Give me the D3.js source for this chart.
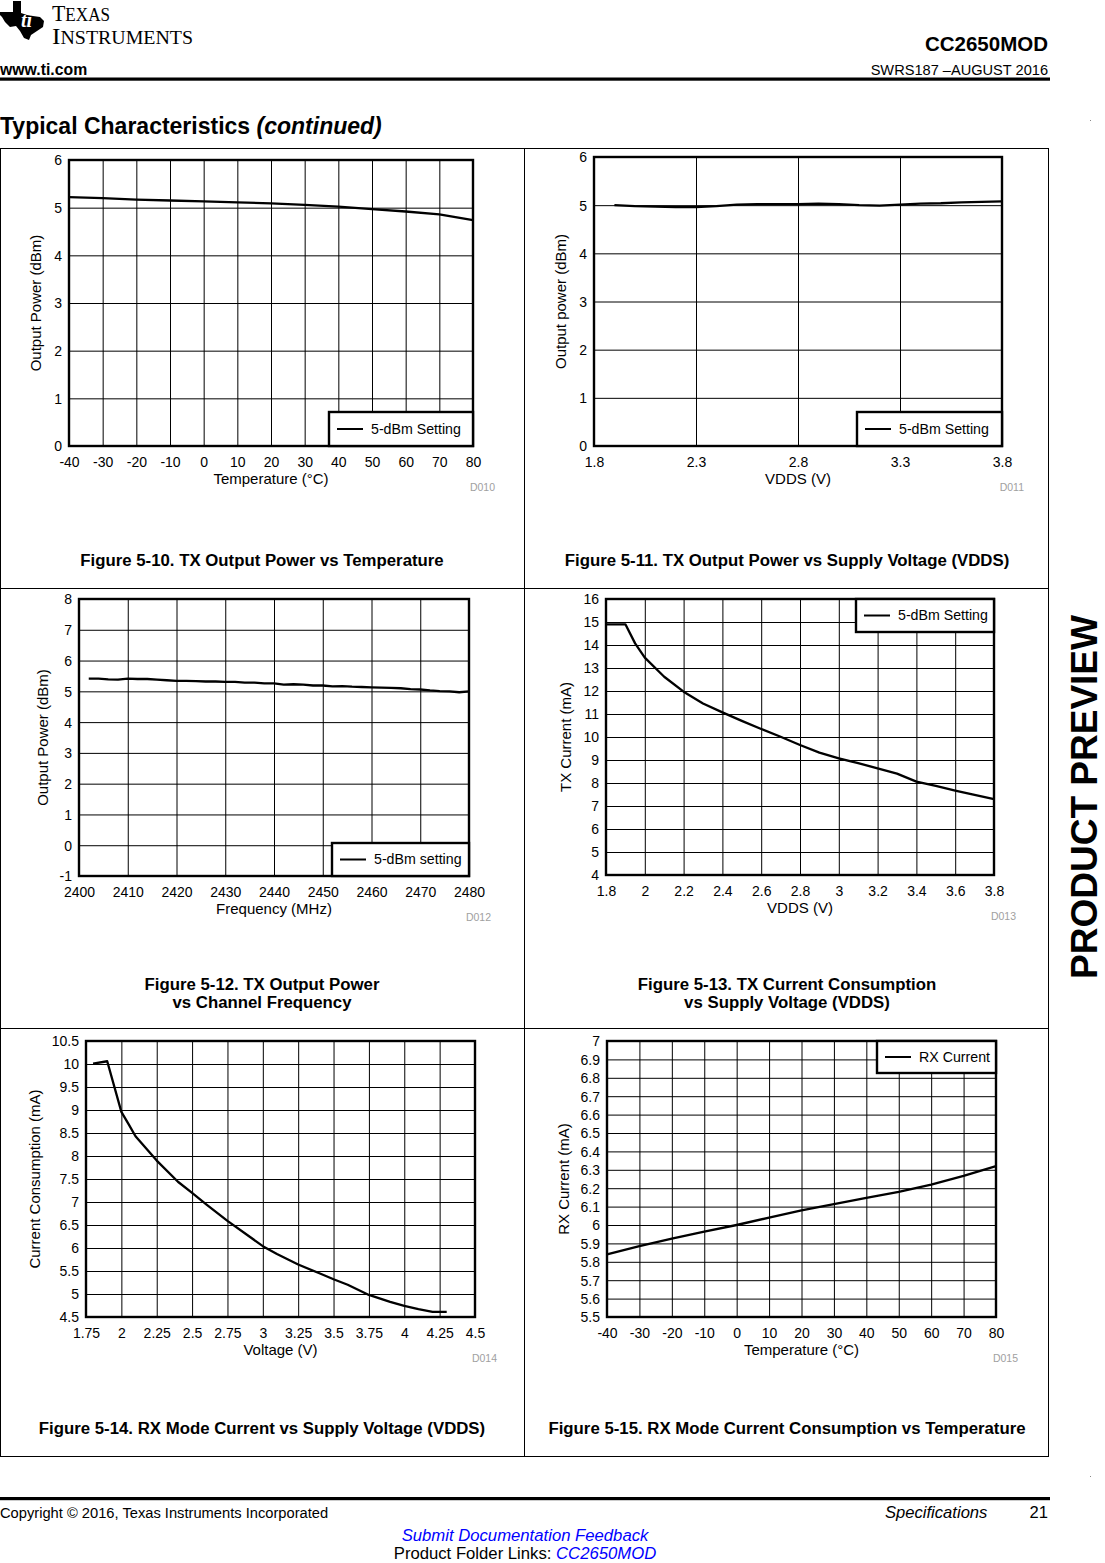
<!DOCTYPE html>
<html>
<head>
<meta charset="utf-8">
<script src="https://cdn.jsdelivr.net/npm/d3@7/dist/d3.min.js"></script>
<style>
  html, body { margin: 0; padding: 0; background: #fff; }
  svg { display: block; font-family: "Liberation Sans", Arial, sans-serif; }
</style>
</head>
<body>
<svg id="page" width="1105" height="1563"></svg>
<script>
// ---------------- DATA ----------------
// Figure 5-10: TX Output Power vs Temperature
const fig10Temp  = [-40, -30, -20, -10, 0, 10, 20, 30, 40, 50, 60, 70, 80];
const fig10Power = [5.22, 5.20, 5.17, 5.15, 5.13, 5.11, 5.09, 5.06, 5.02, 4.97, 4.92, 4.86, 4.74];
const fig10XTicks = [-40, -30, -20, -10, 0, 10, 20, 30, 40, 50, 60, 70, 80];
const fig10XLabels = ["-40", "-30", "-20", "-10", "0", "10", "20", "30", "40", "50", "60", "70", "80"];
const fig10YTicks = [0, 1, 2, 3, 4, 5, 6];
const fig10YLabels = ["0", "1", "2", "3", "4", "5", "6"];

// Figure 5-11: TX Output Power vs Supply Voltage
const fig11Vdds  = [1.9, 2.0, 2.1, 2.2, 2.3, 2.4, 2.5, 2.6, 2.7, 2.8, 2.9, 3.0, 3.1, 3.2, 3.3, 3.4, 3.5, 3.6, 3.7, 3.8];
const fig11Power = [5.00, 4.98, 4.97, 4.96, 4.96, 4.98, 5.01, 5.02, 5.02, 5.02, 5.03, 5.02, 5.00, 4.99, 5.01, 5.03, 5.04, 5.06, 5.07, 5.08];
const fig11XTicks = [1.8, 2.3, 2.8, 3.3, 3.8];
const fig11XLabels = ["1.8", "2.3", "2.8", "3.3", "3.8"];
const fig11YTicks = [0, 1, 2, 3, 4, 5, 6];
const fig11YLabels = ["0", "1", "2", "3", "4", "5", "6"];

// Figure 5-12: TX Output Power vs Channel Frequency
const fig12Freq  = [2402, 2404, 2406, 2408, 2410, 2412, 2414, 2416, 2418, 2420,
                    2422, 2424, 2426, 2428, 2430, 2432, 2434, 2436, 2438, 2440,
                    2442, 2444, 2446, 2448, 2450, 2452, 2454, 2456, 2458, 2460,
                    2462, 2464, 2466, 2468, 2470, 2472, 2474, 2476, 2478, 2480];
const fig12Power = [5.41, 5.41, 5.39, 5.38, 5.41, 5.40, 5.40, 5.38, 5.36, 5.34,
                    5.34, 5.33, 5.32, 5.32, 5.31, 5.31, 5.28, 5.28, 5.26, 5.26,
                    5.22, 5.23, 5.22, 5.19, 5.19, 5.16, 5.17, 5.15, 5.14, 5.13,
                    5.12, 5.11, 5.10, 5.07, 5.06, 5.03, 5.01, 5.00, 4.97, 5.00];
const fig12XTicks = [2400, 2410, 2420, 2430, 2440, 2450, 2460, 2470, 2480];
const fig12XLabels = ["2400", "2410", "2420", "2430", "2440", "2450", "2460", "2470", "2480"];
const fig12YTicks = [-1, 0, 1, 2, 3, 4, 5, 6, 7, 8];
const fig12YLabels = ["-1", "0", "1", "2", "3", "4", "5", "6", "7", "8"];

// Figure 5-13: TX Current Consumption vs Supply Voltage
const fig13Vdds    = [1.8, 1.9, 1.95, 2.0, 2.1, 2.2, 2.3, 2.4, 2.5, 2.6, 2.7, 2.8, 2.9, 3.0, 3.1, 3.2, 3.3, 3.4, 3.5, 3.6, 3.7, 3.8];
const fig13Current = [14.9, 14.9, 14.07, 13.45, 12.62, 11.97, 11.46, 11.07, 10.7, 10.35, 10.01, 9.65, 9.32, 9.07, 8.86, 8.64, 8.41, 8.06, 7.87, 7.67, 7.48, 7.30];
const fig13XTicks = [1.8, 2.0, 2.2, 2.4, 2.6, 2.8, 3.0, 3.2, 3.4, 3.6, 3.8];
const fig13XLabels = ["1.8", "2", "2.2", "2.4", "2.6", "2.8", "3", "3.2", "3.4", "3.6", "3.8"];
const fig13YTicks = [4, 5, 6, 7, 8, 9, 10, 11, 12, 13, 14, 15, 16];
const fig13YLabels = ["4", "5", "6", "7", "8", "9", "10", "11", "12", "13", "14", "15", "16"];

// Figure 5-14: RX Mode Current vs Supply Voltage
const fig14Volt    = [1.8, 1.9, 2.0, 2.05, 2.1, 2.25, 2.4, 2.5, 2.6, 2.75, 2.9, 3.0, 3.1, 3.25, 3.4, 3.5, 3.6, 3.75, 3.9, 4.0, 4.1, 4.2, 4.3];
const fig14Current = [10.01, 10.06, 8.96, 8.70, 8.43, 7.90, 7.44, 7.20, 6.95, 6.59, 6.26, 6.04, 5.87, 5.64, 5.45, 5.32, 5.20, 4.98, 4.83, 4.74, 4.67, 4.61, 4.61];
const fig14XTicks = [1.75, 2.0, 2.25, 2.5, 2.75, 3.0, 3.25, 3.5, 3.75, 4.0, 4.25, 4.5];
const fig14XLabels = ["1.75", "2", "2.25", "2.5", "2.75", "3", "3.25", "3.5", "3.75", "4", "4.25", "4.5"];
const fig14YTicks = [4.5, 5, 5.5, 6, 6.5, 7, 7.5, 8, 8.5, 9, 9.5, 10, 10.5];
const fig14YLabels = ["4.5", "5", "5.5", "6", "6.5", "7", "7.5", "8", "8.5", "9", "9.5", "10", "10.5"];

// Figure 5-15: RX Mode Current vs Temperature
const fig15Temp    = [-40, -30, -20, -10, 0, 10, 20, 30, 40, 50, 60, 70, 80];
const fig15Current = [5.84, 5.885, 5.926, 5.964, 6.0, 6.04, 6.08, 6.113, 6.147, 6.18, 6.22, 6.267, 6.32];
const fig15XTicks = [-40, -30, -20, -10, 0, 10, 20, 30, 40, 50, 60, 70, 80];
const fig15XLabels = ["-40", "-30", "-20", "-10", "0", "10", "20", "30", "40", "50", "60", "70", "80"];
const fig15YTicks = [5.5, 5.6, 5.7, 5.8, 5.9, 6.0, 6.1, 6.2, 6.3, 6.4, 6.5, 6.6, 6.7, 6.8, 6.9, 7.0];
const fig15YLabels = ["5.5", "5.6", "5.7", "5.8", "5.9", "6", "6.1", "6.2", "6.3", "6.4", "6.5", "6.6", "6.7", "6.8", "6.9", "7"];

// ---------------- DRAWING ----------------
const svg = d3.select("#page");
const FONT = "Liberation Sans, Arial, sans-serif";
const TICK_FS = 14, TITLE_FS = 15, LEG_FS = 14.2, CAP_FS = 16.8;

// Header
const logo = svg.append("g");
logo.append("path")
  .attr("d", "M13,1 L21,1 L21,13 L27,15 L33,16 L40,17 L44,21 L43,27 L37,31 L31,35 L29,40 L24,38 L20,31 L16,26 L10,27 L5,22 L2,17 L0,15 L0,12 L13,12 Z")
  .attr("fill", "#000");
logo.append("text").attr("x", 21).attr("y", 27).attr("font-family", "Liberation Serif, serif")
  .attr("font-style", "italic").attr("font-weight", "bold").attr("font-size", 20).attr("fill", "#fff").text("ti");
const tx1 = logo.append("text").attr("x", 52).attr("y", 21).attr("font-family", "Liberation Serif, serif")
  .attr("textLength", 58).attr("lengthAdjust", "spacingAndGlyphs");
tx1.append("tspan").attr("font-size", 23).text("T");
tx1.append("tspan").attr("font-size", 18).text("EXAS");
const tx2 = logo.append("text").attr("x", 52).attr("y", 44).attr("font-family", "Liberation Serif, serif")
  .attr("textLength", 141).attr("lengthAdjust", "spacingAndGlyphs");
tx2.append("tspan").attr("font-size", 23).text("I");
tx2.append("tspan").attr("font-size", 18).text("NSTRUMENTS");

svg.append("text").attr("x", 1048).attr("y", 51).attr("text-anchor", "end")
  .attr("font-weight", "bold").attr("font-size", 20.5).text("CC2650MOD");
svg.append("text").attr("x", 1048).attr("y", 75).attr("text-anchor", "end")
  .attr("font-size", 14.6).text("SWRS187 \u2013AUGUST 2016");
svg.append("text").attr("x", 0).attr("y", 75)
  .attr("font-weight", "bold").attr("font-size", 15.8).text("www.ti.com");
svg.append("rect").attr("x", 0).attr("y", 77.5).attr("width", 1050).attr("height", 3.2).attr("fill", "#000");

const title = svg.append("text").attr("x", 0).attr("y", 134).attr("font-size", 23).attr("font-weight", "bold");
title.append("tspan").text("Typical Characteristics ");
title.append("tspan").attr("font-style", "italic").text("(continued)");

// Table frame
const table = svg.append("g").attr("stroke", "#000").attr("stroke-width", 1).attr("shape-rendering", "crispEdges");
[148.5, 588.5, 1028.5, 1456.5].forEach(y => table.append("line").attr("x1", 0).attr("x2", 1049).attr("y1", y).attr("y2", y));
[0.5, 524.5, 1048.5].forEach(x => table.append("line").attr("x1", x).attr("x2", x).attr("y1", 148.5).attr("y2", 1456.5));

// Chart builder
function drawChart(c) {
  const g = svg.append("g");
  const x = d3.scaleLinear().domain(c.xDomain).range([c.left, c.right]);
  const y = d3.scaleLinear().domain(c.yDomain).range([c.bottom, c.top]);
  const w = c.right - c.left, h = c.bottom - c.top;

  // vertical grid + x labels
  const xa = g.append("g").attr("transform", `translate(0,${c.bottom})`)
    .call(d3.axisBottom(x).tickValues(c.xTicks).tickSize(-h).tickPadding(8)
      .tickFormat((d, i) => c.xLabels[i]));
  // horizontal grid + y labels
  const ya = g.append("g").attr("transform", `translate(${c.left},0)`)
    .call(d3.axisLeft(y).tickValues(c.yTicks).tickSize(-w).tickPadding(7)
      .tickFormat((d, i) => c.yLabels[i]));
  [xa, ya].forEach(a => {
    a.select(".domain").remove();
    a.selectAll(".tick line").attr("stroke", "#000").attr("stroke-width", 1);
    a.selectAll(".tick text").attr("font-family", FONT).attr("font-size", TICK_FS).attr("fill", "#000");
  });
  xa.selectAll(".tick text").attr("dy", null).attr("y", 21);
  ya.selectAll(".tick text").attr("dy", "0.35em");

  // data line
  const pts = c.xs.map((v, i) => [v, c.ys[i]]);
  g.append("path").datum(pts)
    .attr("d", d3.line().x(d => x(d[0])).y(d => y(d[1])))
    .attr("fill", "none").attr("stroke", "#000").attr("stroke-width", 2.3).attr("stroke-linejoin", "round");

  // plot border
  g.append("rect").attr("x", c.left).attr("y", c.top).attr("width", w).attr("height", h)
    .attr("fill", "none").attr("stroke", "#000").attr("stroke-width", 2.4);

  // legend
  if (c.legend) {
    const L = c.legend;
    const lg = g.append("g");
    lg.append("rect").attr("x", L.x0).attr("y", L.y0).attr("width", L.x1 - L.x0).attr("height", L.y1 - L.y0)
      .attr("fill", "#fff").attr("stroke", "#000").attr("stroke-width", 2.4);
    const ly = (L.y0 + L.y1) / 2;
    lg.append("line").attr("x1", L.x0 + 8).attr("x2", L.x0 + 34).attr("y1", ly).attr("y2", ly)
      .attr("stroke", "#000").attr("stroke-width", 2);
    lg.append("text").attr("x", L.x0 + 42).attr("y", ly).attr("dy", "0.35em")
      .attr("font-size", LEG_FS).text(L.text);
  }

  // axis titles
  g.append("text").attr("x", (c.left + c.right) / 2).attr("y", c.bottom + 38)
    .attr("text-anchor", "middle").attr("font-size", TITLE_FS).text(c.xTitle);
  g.append("text").attr("transform", `translate(${c.yTitleX},${(c.top + c.bottom) / 2}) rotate(-90)`)
    .attr("text-anchor", "middle").attr("dy", "0.35em").attr("font-size", TITLE_FS).text(c.yTitle);
  g.append("text").attr("x", c.right + 22).attr("y", c.bottom + 45)
    .attr("text-anchor", "end").attr("font-size", 10.5).attr("fill", "#a0a0a0").text(c.code);

  // caption
  c.caption.forEach((t, i) => {
    g.append("text").attr("x", c.capX).attr("y", c.capY + i * 18).attr("text-anchor", "middle")
      .attr("font-weight", "bold").attr("font-size", CAP_FS).text(t);
  });
}

drawChart({
  left: 69, right: 473, top: 160, bottom: 446,
  xDomain: [-40, 80], yDomain: [0, 6],
  xTicks: fig10XTicks, xLabels: fig10XLabels, yTicks: fig10YTicks, yLabels: fig10YLabels,
  xs: fig10Temp, ys: fig10Power,
  xTitle: "Temperature (\u00B0C)", yTitle: "Output Power (dBm)", yTitleX: 36, code: "D010",
  legend: { x0: 329, x1: 473, y0: 412, y1: 446, text: "5-dBm Setting" },
  caption: ["Figure 5-10. TX Output Power vs Temperature"], capX: 262, capY: 566
});

drawChart({
  left: 594, right: 1002, top: 157, bottom: 446,
  xDomain: [1.8, 3.8], yDomain: [0, 6],
  xTicks: fig11XTicks, xLabels: fig11XLabels, yTicks: fig11YTicks, yLabels: fig11YLabels,
  xs: fig11Vdds, ys: fig11Power,
  xTitle: "VDDS (V)", yTitle: "Output power (dBm)", yTitleX: 561, code: "D011",
  legend: { x0: 857, x1: 1002, y0: 412, y1: 446, text: "5-dBm Setting" },
  caption: ["Figure 5-11. TX Output Power vs Supply Voltage (VDDS)"], capX: 787, capY: 566
});

drawChart({
  left: 79, right: 469, top: 599, bottom: 876,
  xDomain: [2400, 2480], yDomain: [-1, 8],
  xTicks: fig12XTicks, xLabels: fig12XLabels, yTicks: fig12YTicks, yLabels: fig12YLabels,
  xs: fig12Freq, ys: fig12Power,
  xTitle: "Frequency (MHz)", yTitle: "Output Power (dBm)", yTitleX: 42.5, code: "D012",
  legend: { x0: 332, x1: 469, y0: 843, y1: 876, text: "5-dBm setting" },
  caption: ["Figure 5-12. TX Output Power", "vs Channel Frequency"], capX: 262, capY: 990
});

drawChart({
  left: 606, right: 994, top: 599, bottom: 875,
  xDomain: [1.8, 3.8], yDomain: [4, 16],
  xTicks: fig13XTicks, xLabels: fig13XLabels, yTicks: fig13YTicks, yLabels: fig13YLabels,
  xs: fig13Vdds, ys: fig13Current,
  xTitle: "VDDS (V)", yTitle: "TX Current (mA)", yTitleX: 566, code: "D013",
  legend: { x0: 856, x1: 994, y0: 599, y1: 632, text: "5-dBm Setting" },
  caption: ["Figure 5-13. TX Current Consumption", "vs Supply Voltage (VDDS)"], capX: 787, capY: 990
});

drawChart({
  left: 86, right: 475, top: 1041, bottom: 1317,
  xDomain: [1.75, 4.5], yDomain: [4.5, 10.5],
  xTicks: fig14XTicks, xLabels: fig14XLabels, yTicks: fig14YTicks, yLabels: fig14YLabels,
  xs: fig14Volt, ys: fig14Current,
  xTitle: "Voltage (V)", yTitle: "Current Consumption (mA)", yTitleX: 35, code: "D014",
  legend: null,
  caption: ["Figure 5-14. RX Mode Current vs Supply Voltage (VDDS)"], capX: 262, capY: 1434
});

drawChart({
  left: 607, right: 996, top: 1041, bottom: 1317,
  xDomain: [-40, 80], yDomain: [5.5, 7],
  xTicks: fig15XTicks, xLabels: fig15XLabels, yTicks: fig15YTicks, yLabels: fig15YLabels,
  xs: fig15Temp, ys: fig15Current,
  xTitle: "Temperature (\u00B0C)", yTitle: "RX Current (mA)", yTitleX: 563.5, code: "D015",
  legend: { x0: 877, x1: 996, y0: 1041, y1: 1073, text: "RX Current" },
  caption: ["Figure 5-15. RX Mode Current Consumption vs Temperature"], capX: 787, capY: 1434
});

// Side banner
svg.append("text").attr("transform", "translate(1097,797) rotate(-90)")
  .attr("text-anchor", "middle").attr("font-weight", "bold").attr("font-size", 37).text("PRODUCT PREVIEW");

// tiny marks
svg.append("rect").attr("x", 1090).attr("y", 120).attr("width", 1).attr("height", 1).attr("fill", "#888");
svg.append("rect").attr("x", 1090).attr("y", 1476).attr("width", 1).attr("height", 1).attr("fill", "#888");

// Footer
svg.append("rect").attr("x", 0).attr("y", 1497).attr("width", 1050).attr("height", 3.2).attr("fill", "#000");
svg.append("text").attr("x", 0).attr("y", 1518).attr("font-size", 14.7).text("Copyright \u00A9 2016, Texas Instruments Incorporated");
svg.append("text").attr("x", 885).attr("y", 1518).attr("font-size", 16.6).attr("font-style", "italic").text("Specifications");
svg.append("text").attr("x", 1048).attr("y", 1518).attr("text-anchor", "end").attr("font-size", 16.6).text("21");
svg.append("text").attr("x", 525).attr("y", 1541).attr("text-anchor", "middle").attr("font-size", 16.7)
  .attr("font-style", "italic").attr("fill", "#0000ff").text("Submit Documentation Feedback");
const pf = svg.append("text").attr("x", 525).attr("y", 1559).attr("text-anchor", "middle").attr("font-size", 16.7);
pf.append("tspan").text("Product Folder Links: ");
pf.append("tspan").attr("font-style", "italic").attr("fill", "#0000ff").text("CC2650MOD");
</script>
</body>
</html>
